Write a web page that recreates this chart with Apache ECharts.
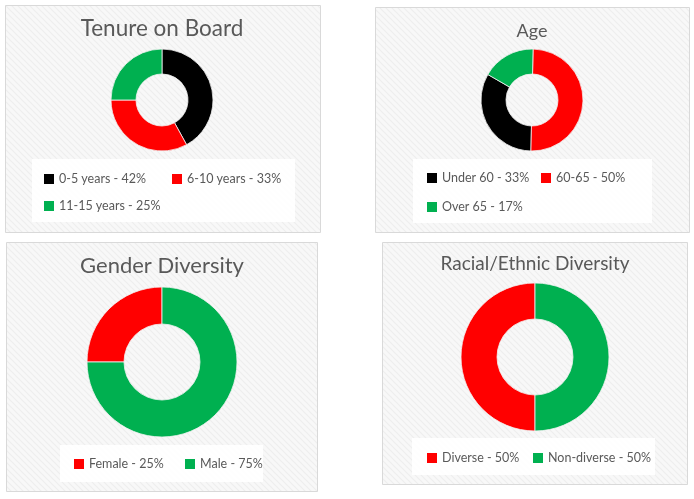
<!DOCTYPE html>
<html>
<head>
<meta charset="utf-8">
<script src="https://cdn.jsdelivr.net/npm/echarts@6/dist/echarts.min.js"></script>
<style>
html,body{margin:0;padding:0;background:#fff;}
#chart{width:694px;height:499px;}
</style>
</head>
<body>
<div id="chart"></div>
<script>
// ---- data ----
var tenureTitle = 'Tenure on Board';
var tenureCats = ['0-5 years', '6-10 years', '11-15 years'];
var tenureVals = [42, 33, 25];

var ageTitle = 'Age';
var ageCats = ['Under 60', '60-65', 'Over 65'];
var ageVals = [33, 50, 17];

var genderTitle = 'Gender Diversity';
var genderCats = ['Female', 'Male'];
var genderVals = [25, 75];

var raceTitle = 'Racial/Ethnic Diversity';
var raceCats = ['Diverse', 'Non-diverse'];
var raceVals = [50, 50];

// ---- style ----
var BLACK = '#000000', RED = '#ff0000', GREEN = '#00b050';
var FONT = 'Lato';

function hatch() {
  var c = document.createElement('canvas');
  c.width = 6; c.height = 6;
  var g = c.getContext('2d');
  g.fillStyle = '#f8f8f8';
  g.fillRect(0, 0, 6, 6);
  g.strokeStyle = '#eeeeee';
  g.lineWidth = 1.2;
  g.beginPath();
  g.moveTo(-1, -1); g.lineTo(7, 7);
  g.moveTo(-4, 2); g.lineTo(4, 10);
  g.moveTo(2, -4); g.lineTo(10, 4);
  g.stroke();
  return c;
}
var pat = {image: hatch(), repeat: 'repeat'};

var panels = [
  {x: 5, y: 5, w: 315, h: 227},
  {x: 375, y: 7, w: 314, h: 225},
  {x: 6, y: 242, w: 311, h: 249},
  {x: 382, y: 242, w: 305, h: 242}
];
var boxes = [
  {x: 32, y: 159, w: 263, h: 63},
  {x: 413, y: 159, w: 239, h: 64},
  {x: 60, y: 445, w: 203, h: 37},
  {x: 412, y: 438, w: 243, h: 37}
];

var graphics = [];
panels.forEach(function (p) {
  graphics.push({type: 'rect', z: 0, shape: {x: p.x + 0.5, y: p.y + 0.5, width: p.w, height: p.h},
    style: {fill: pat, stroke: '#d9d9d9', lineWidth: 1}});
});
boxes.forEach(function (b) {
  graphics.push({type: 'rect', z: 1, shape: {x: b.x, y: b.y, width: b.w, height: b.h},
    style: {fill: 'rgba(255,255,255,0.9)'}});
});

function mkTitle(text, cx, cy, size) {
  return {text: text, left: cx, top: cy, textAlign: 'center', textVerticalAlign: 'middle', padding: 0,
    textStyle: {fontFamily: FONT, fontWeight: 'normal', fontSize: size, color: '#595959'}};
}
var titles = [
  mkTitle(tenureTitle, 162, 29, 22.5),
  mkTitle(ageTitle, 532, 31, 18),
  mkTitle(genderTitle, 162, 266, 22),
  mkTitle(raceTitle, 535, 264, 19)
];

var valueOf = {};
function reg(cats, vals) { cats.forEach(function (c, i) { valueOf[c] = vals[i]; }); }
reg(tenureCats, tenureVals); reg(ageCats, ageVals); reg(genderCats, genderVals); reg(raceCats, raceVals);

function mkLegend(name, x, cy) {
  return {data: [name], left: x, top: cy - 7, padding: 0, itemWidth: 10, itemHeight: 10, icon: 'rect',
    selectedMode: false, itemGap: 0,
    itemStyle: {borderWidth: 0},
    formatter: function (n) { return n + ' - ' + valueOf[n] + '%'; },
    textStyle: {fontFamily: FONT, fontSize: 12.5, color: '#595959', lineHeight: 14}};
}
var legends = [
  mkLegend(tenureCats[0], 44, 179), mkLegend(tenureCats[1], 172, 179), mkLegend(tenureCats[2], 44, 206),
  mkLegend(ageCats[0], 427, 178), mkLegend(ageCats[1], 541, 178), mkLegend(ageCats[2], 427, 207),
  mkLegend(genderCats[0], 74, 464), mkLegend(genderCats[1], 185, 464),
  mkLegend(raceCats[0], 427, 458), mkLegend(raceCats[1], 533, 458)
];

function mkPie(cats, vals, colors, center, radius, startAngle, clockwise) {
  return {type: 'pie', center: center, radius: radius, startAngle: startAngle, clockwise: clockwise,
    label: {show: false}, labelLine: {show: false}, emphasis: {disabled: true}, silent: true,
    avoidLabelOverlap: false,
    itemStyle: {borderColor: '#f2f2f2', borderWidth: 0.8},
    data: cats.map(function (c, i) { return {name: c, value: vals[i], itemStyle: {color: colors[i]}}; })};
}

var chart = echarts.init(document.getElementById('chart'), null, {renderer: 'canvas'});
chart.setOption({
  animation: false,
  backgroundColor: '#ffffff',
  graphic: graphics,
  title: titles,
  legend: legends,
  series: [
    mkPie(tenureCats, tenureVals, [BLACK, RED, GREEN], [162, 100], [26, 51], 90, true),
    mkPie(ageCats, ageVals, [BLACK, RED, GREEN], [532, 100], [26, 51], 150, false),
    mkPie(genderCats, genderVals, [RED, GREEN], [162, 362], [38, 75], 180, true),
    mkPie(raceCats, raceVals, [RED, GREEN], [535, 357], [38, 74], 270, true)
  ]
});
</script>
</body>
</html>
